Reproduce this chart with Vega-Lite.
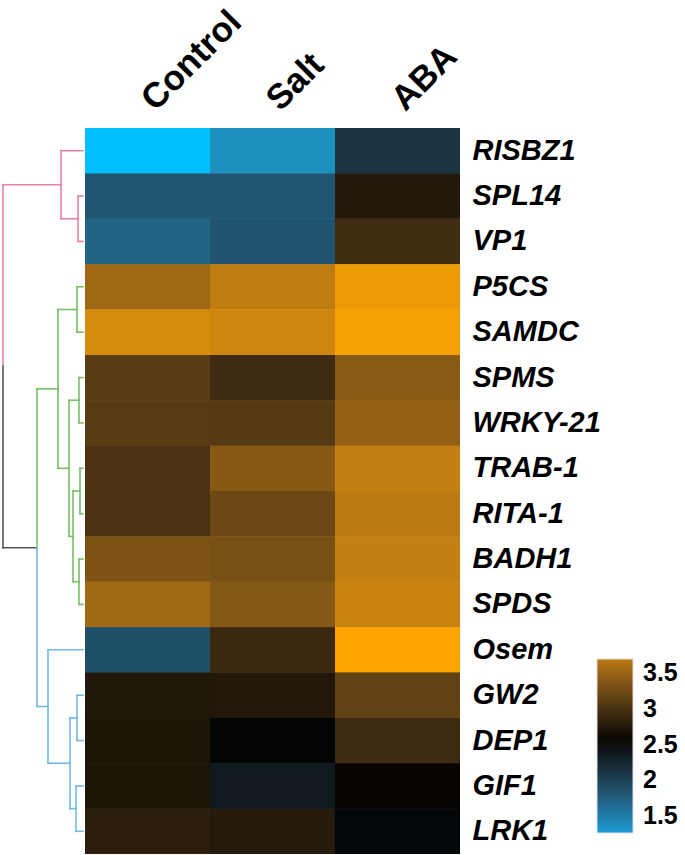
{
  "$schema": "https://vega.github.io/schema/vega-lite/v6.json",
  "padding": {"left": 0, "top": 4, "right": 0, "bottom": 0},
  "background": "white",
  "spacing": 0,
  "bounds": "flush",
  "config": {"view": {"stroke": null}, "font": "Liberation Sans", "legend": {"labelFontSize": 25, "labelFontWeight": "bold", "labelColor": "black"}},
  "datasets": {
    "cells": [
      {"gene": "RISBZ1", "condition": "Control", "value": 1.0},
      {"gene": "RISBZ1", "condition": "Salt", "value": 1.35},
      {"gene": "RISBZ1", "condition": "ABA", "value": 2.12},
      {"gene": "SPL14", "condition": "Control", "value": 1.82},
      {"gene": "SPL14", "condition": "Salt", "value": 1.82},
      {"gene": "SPL14", "condition": "ABA", "value": 2.74},
      {"gene": "VP1", "condition": "Control", "value": 1.69},
      {"gene": "VP1", "condition": "Salt", "value": 1.84},
      {"gene": "VP1", "condition": "ABA", "value": 2.94},
      {"gene": "P5CS", "condition": "Control", "value": 3.48},
      {"gene": "P5CS", "condition": "Salt", "value": 3.66},
      {"gene": "P5CS", "condition": "ABA", "value": 3.91},
      {"gene": "SAMDC", "condition": "Control", "value": 3.79},
      {"gene": "SAMDC", "condition": "Salt", "value": 3.75},
      {"gene": "SAMDC", "condition": "ABA", "value": 3.96},
      {"gene": "SPMS", "condition": "Control", "value": 3.09},
      {"gene": "SPMS", "condition": "Salt", "value": 2.92},
      {"gene": "SPMS", "condition": "ABA", "value": 3.37},
      {"gene": "WRKY-21", "condition": "Control", "value": 3.09},
      {"gene": "WRKY-21", "condition": "Salt", "value": 3.07},
      {"gene": "WRKY-21", "condition": "ABA", "value": 3.43},
      {"gene": "TRAB-1", "condition": "Control", "value": 3.0},
      {"gene": "TRAB-1", "condition": "Salt", "value": 3.36},
      {"gene": "TRAB-1", "condition": "ABA", "value": 3.69},
      {"gene": "RITA-1", "condition": "Control", "value": 3.0},
      {"gene": "RITA-1", "condition": "Salt", "value": 3.2},
      {"gene": "RITA-1", "condition": "ABA", "value": 3.65},
      {"gene": "BADH1", "condition": "Control", "value": 3.3},
      {"gene": "BADH1", "condition": "Salt", "value": 3.28},
      {"gene": "BADH1", "condition": "ABA", "value": 3.69},
      {"gene": "SPDS", "condition": "Control", "value": 3.5},
      {"gene": "SPDS", "condition": "Salt", "value": 3.35},
      {"gene": "SPDS", "condition": "ABA", "value": 3.72},
      {"gene": "Osem", "condition": "Control", "value": 1.88},
      {"gene": "Osem", "condition": "Salt", "value": 2.89},
      {"gene": "Osem", "condition": "ABA", "value": 4.0},
      {"gene": "GW2", "condition": "Control", "value": 2.71},
      {"gene": "GW2", "condition": "Salt", "value": 2.73},
      {"gene": "GW2", "condition": "ABA", "value": 3.14},
      {"gene": "DEP1", "condition": "Control", "value": 2.69},
      {"gene": "DEP1", "condition": "Salt", "value": 2.53},
      {"gene": "DEP1", "condition": "ABA", "value": 2.91},
      {"gene": "GIF1", "condition": "Control", "value": 2.69},
      {"gene": "GIF1", "condition": "Salt", "value": 2.38},
      {"gene": "GIF1", "condition": "ABA", "value": 2.57},
      {"gene": "LRK1", "condition": "Control", "value": 2.79},
      {"gene": "LRK1", "condition": "Salt", "value": 2.75},
      {"gene": "LRK1", "condition": "ABA", "value": 2.51}
    ],
    "tree": [
      {"h": 80, "h2": 80, "r": 4.75, "r2": 0.75, "cluster": "c1"},
      {"h": 80, "h2": 22, "r": 0.75, "r2": 0.75, "cluster": "c1"},
      {"h": 80, "h2": 80, "r": 4.75, "r2": 8.75, "cluster": "root"},
      {"h": 80, "h2": 46, "r": 8.75, "r2": 8.75, "cluster": "root"},
      {"h": 22, "h2": 22, "r": 0.75, "r2": 0, "cluster": "c1"},
      {"h": 22, "h2": 0, "r": 0, "r2": 0, "cluster": "c1"},
      {"h": 22, "h2": 22, "r": 0.75, "r2": 1.5, "cluster": "c1"},
      {"h": 22, "h2": 5, "r": 1.5, "r2": 1.5, "cluster": "c1"},
      {"h": 5, "h2": 5, "r": 1.5, "r2": 1, "cluster": "c1"},
      {"h": 5, "h2": 0, "r": 1, "r2": 1, "cluster": "c1"},
      {"h": 5, "h2": 5, "r": 1.5, "r2": 2, "cluster": "c1"},
      {"h": 5, "h2": 0, "r": 2, "r2": 2, "cluster": "c1"},
      {"h": 46, "h2": 46, "r": 8.75, "r2": 5.25, "cluster": "c2"},
      {"h": 46, "h2": 25, "r": 5.25, "r2": 5.25, "cluster": "c2"},
      {"h": 46, "h2": 46, "r": 8.75, "r2": 12.25, "cluster": "c3"},
      {"h": 46, "h2": 35, "r": 12.25, "r2": 12.25, "cluster": "c3"},
      {"h": 25, "h2": 25, "r": 5.25, "r2": 3.5, "cluster": "c2"},
      {"h": 25, "h2": 6, "r": 3.5, "r2": 3.5, "cluster": "c2"},
      {"h": 25, "h2": 25, "r": 5.25, "r2": 7, "cluster": "c2"},
      {"h": 25, "h2": 14, "r": 7, "r2": 7, "cluster": "c2"},
      {"h": 6, "h2": 6, "r": 3.5, "r2": 3, "cluster": "c2"},
      {"h": 6, "h2": 0, "r": 3, "r2": 3, "cluster": "c2"},
      {"h": 6, "h2": 6, "r": 3.5, "r2": 4, "cluster": "c2"},
      {"h": 6, "h2": 0, "r": 4, "r2": 4, "cluster": "c2"},
      {"h": 14, "h2": 14, "r": 7, "r2": 5.5, "cluster": "c2"},
      {"h": 14, "h2": 4, "r": 5.5, "r2": 5.5, "cluster": "c2"},
      {"h": 14, "h2": 14, "r": 7, "r2": 8.5, "cluster": "c2"},
      {"h": 14, "h2": 10, "r": 8.5, "r2": 8.5, "cluster": "c2"},
      {"h": 4, "h2": 4, "r": 5.5, "r2": 5, "cluster": "c2"},
      {"h": 4, "h2": 0, "r": 5, "r2": 5, "cluster": "c2"},
      {"h": 4, "h2": 4, "r": 5.5, "r2": 6, "cluster": "c2"},
      {"h": 4, "h2": 0, "r": 6, "r2": 6, "cluster": "c2"},
      {"h": 10, "h2": 10, "r": 8.5, "r2": 7.5, "cluster": "c2"},
      {"h": 10, "h2": 3, "r": 7.5, "r2": 7.5, "cluster": "c2"},
      {"h": 10, "h2": 10, "r": 8.5, "r2": 9.5, "cluster": "c2"},
      {"h": 10, "h2": 4, "r": 9.5, "r2": 9.5, "cluster": "c2"},
      {"h": 3, "h2": 3, "r": 7.5, "r2": 7, "cluster": "c2"},
      {"h": 3, "h2": 0, "r": 7, "r2": 7, "cluster": "c2"},
      {"h": 3, "h2": 3, "r": 7.5, "r2": 8, "cluster": "c2"},
      {"h": 3, "h2": 0, "r": 8, "r2": 8, "cluster": "c2"},
      {"h": 4, "h2": 4, "r": 9.5, "r2": 9, "cluster": "c2"},
      {"h": 4, "h2": 0, "r": 9, "r2": 9, "cluster": "c2"},
      {"h": 4, "h2": 4, "r": 9.5, "r2": 10, "cluster": "c2"},
      {"h": 4, "h2": 0, "r": 10, "r2": 10, "cluster": "c2"},
      {"h": 35, "h2": 35, "r": 12.25, "r2": 11, "cluster": "c3"},
      {"h": 35, "h2": 0, "r": 11, "r2": 11, "cluster": "c3"},
      {"h": 35, "h2": 35, "r": 12.25, "r2": 13.5, "cluster": "c3"},
      {"h": 35, "h2": 13, "r": 13.5, "r2": 13.5, "cluster": "c3"},
      {"h": 13, "h2": 13, "r": 13.5, "r2": 12.5, "cluster": "c3"},
      {"h": 13, "h2": 6, "r": 12.5, "r2": 12.5, "cluster": "c3"},
      {"h": 13, "h2": 13, "r": 13.5, "r2": 14.5, "cluster": "c3"},
      {"h": 13, "h2": 7, "r": 14.5, "r2": 14.5, "cluster": "c3"},
      {"h": 6, "h2": 6, "r": 12.5, "r2": 12, "cluster": "c3"},
      {"h": 6, "h2": 0, "r": 12, "r2": 12, "cluster": "c3"},
      {"h": 6, "h2": 6, "r": 12.5, "r2": 13, "cluster": "c3"},
      {"h": 6, "h2": 0, "r": 13, "r2": 13, "cluster": "c3"},
      {"h": 7, "h2": 7, "r": 14.5, "r2": 14, "cluster": "c3"},
      {"h": 7, "h2": 0, "r": 14, "r2": 14, "cluster": "c3"},
      {"h": 7, "h2": 7, "r": 14.5, "r2": 15, "cluster": "c3"},
      {"h": 7, "h2": 0, "r": 15, "r2": 15, "cluster": "c3"}
    ]
  },
  "hconcat": [
    {
      "width": 85,
      "height": 726,
      "data": {"name": "tree"},
      "mark": {"type": "rule", "strokeWidth": 1.6, "strokeCap": "square"},
      "encoding": {
        "x": {"field": "h", "type": "quantitative", "scale": {"domain": [-2, 83], "reverse": true, "nice": false, "zero": false}, "axis": null},
        "x2": {"field": "h2"},
        "y": {"field": "r", "type": "quantitative", "scale": {"domain": [-0.5, 15.5], "reverse": true, "nice": false, "zero": false}, "axis": null},
        "y2": {"field": "r2"},
        "color": {"field": "cluster", "type": "nominal", "scale": {"domain": ["c1", "c2", "c3", "root"], "range": ["#E8829F", "#78BF66", "#72B8E8", "#555555"]}, "legend": null}
      }
    },
    {
      "width": 375,
      "height": 726,
      "data": {"name": "cells"},
      "encoding": {
        "x": {
          "field": "condition", "type": "nominal", "sort": ["Control", "Salt", "ABA"],
          "scale": {"paddingInner": 0, "paddingOuter": 0},
          "axis": {"orient": "top", "title": null, "labelAngle": -45, "labelAlign": "left", "labelBaseline": "middle", "labelFontSize": 35, "labelFontWeight": "bold", "labelColor": "black", "labelPadding": 24, "ticks": false, "tickSize": 0, "domain": false, "labelFont": "Liberation Sans"}
        },
        "y": {
          "field": "gene", "type": "nominal",
          "sort": ["RISBZ1", "SPL14", "VP1", "P5CS", "SAMDC", "SPMS", "WRKY-21", "TRAB-1", "RITA-1", "BADH1", "SPDS", "Osem", "GW2", "DEP1", "GIF1", "LRK1"],
          "scale": {"paddingInner": 0, "paddingOuter": 0},
          "axis": {"orient": "right", "title": null, "labelFontSize": 29, "labelFontWeight": "bold", "labelFontStyle": "italic", "labelColor": "black", "labelPadding": 12, "ticks": false, "tickSize": 0, "domain": false, "labelFont": "Liberation Sans"}
        }
      },
      "layer": [
        {
          "mark": {"type": "rect"},
          "encoding": {
            "fill": {
              "field": "value", "type": "quantitative",
              "scale": {"domain": [1.26, 2.55, 3.7], "range": ["#1A9BD6", "#000000", "#BC7B14"], "interpolate": "lab"},
              "legend": {"orient": "none", "legendX": 597, "legendY": 531, "title": null, "padding": 0, "direction": "vertical", "values": [1.5, 2, 2.5, 3, 3.5], "labelExpr": "'' + datum.value", "gradientLength": 174, "gradientThickness": 36, "gradientStrokeColor": "#dddddd", "gradientStrokeWidth": 1, "labelFontSize": 25, "labelFontWeight": "bold", "labelColor": "black", "labelOffset": 10, "labelFont": "Liberation Sans", "labelOverlap": false}
            }
          }
        },
        {
          "mark": {"type": "rect"},
          "encoding": {
            "color": {
              "field": "value", "type": "quantitative",
              "scale": {"domain": [1.0, 2.55, 4.0], "range": ["#00BFFF", "#000000", "#FFA500"], "interpolate": "lab"},
              "legend": null
            }
          }
        }
      ]
    }
  ]
}
